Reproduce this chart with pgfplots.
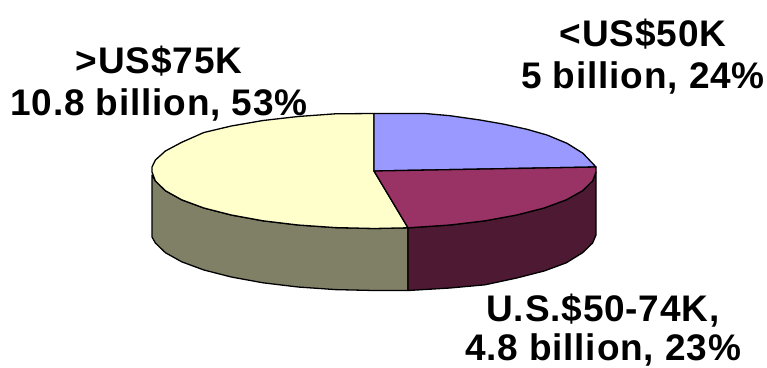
\documentclass[border=0pt]{standalone}
\usepackage{pgfplots}
\pgfplotsset{compat=1.18}
\usepackage{fontspec}
\setmainfont{Liberation Sans}
\newfontfamily\labelfont[LetterSpace=2.2]{Liberation Sans}
\definecolor{sliceblue}{HTML}{9999FF}
\definecolor{sliceplum}{HTML}{993366}
\definecolor{slicecream}{HTML}{FFFFCC}
\definecolor{wallplum}{HTML}{4D1933}
\definecolor{wallcream}{HTML}{808066}
\tikzset{lab/.style={anchor=base, inner sep=0pt, font=\labelfont\fontsize{37}{37}\selectfont\bfseries, text=black}}
\begin{document}
\begin{tikzpicture}
\begin{axis}[
  scale only axis, width=767pt, height=367pt,
  xmin=0, xmax=767, ymin=0, ymax=367, y dir=reverse,
  hide axis, clip=false,
  every axis plot/.append style={draw=black, line width=1.3pt, line join=round, mark=none}
]
% side wall of the largest slice
\addplot[fill=wallcream] coordinates {
  (408,227.8) (374,228.5) (335.5,227.6) (298.1,225) (263,220.8) (231.3,215)
  (203.9,208) (181.7,199.8) (165.4,190.7) (155.4,181) (152,175)
  (152,237) (155.4,243) (165.4,252.7) (181.7,261.8) (203.9,270) (231.3,277)
  (263,282.8) (298.1,287) (335.5,289.6) (374,290.5) (408,290.5)
} --cycle;
% side wall of the middle slice
\addplot[fill=wallplum] coordinates {
  (408,227.8) (449.9,225) (485,220.8) (516.7,215) (544.1,208) (566.3,199.8)
  (582.6,190.7) (592.6,181) (596,172)
  (596,235) (592.6,243) (582.6,252.7) (566.3,262.8) (544.1,271) (516.7,278)
  (485,284.8) (449.9,288) (408,290.5)
} --cycle;
% top face, >US$75K
\addplot[fill=slicecream] coordinates {
  (374,171) (408,227.8) (374,228.5) (335.5,227.6) (298.1,225) (263,220.8)
  (231.3,215) (203.9,208) (181.7,199.8) (165.4,190.7) (155.4,181) (152,172)
  (152,167) (155.4,160) (165.4,151) (181.7,142.3) (203.9,132.5) (231.3,126)
  (263,120.5) (298.1,116.5) (335.5,113.8) (374,113.5)
} --cycle;
% top face, <US$50K
\addplot[fill=sliceblue] coordinates {
  (374,171) (374,113.5) (425,113.5) (450,115.7) (480,120) (503,124) (527,129.3)
  (547,135) (567,143.3) (583,153.3) (596,167)
} --cycle;
% top face, U.S.$50-74K
\addplot[fill=sliceplum] coordinates {
  (374,171) (596,167) (596,172) (592.6,181) (582.6,190.7) (566.3,199.8)
  (544.1,208) (516.7,215) (485,220.8) (449.9,225) (408,227.8)
} --cycle;
\node[lab] at (axis cs:159,73) {>US\$75K};
\node[lab] at (axis cs:159,115) {10.8 billion, 53\%};
\node[lab] at (axis cs:643,46) {<US\$50K};
\node[lab] at (axis cs:643,88) {5 billion, 24\%};
\node[lab] at (axis cs:603,321) {U.S.\$50-74K,};
\node[lab] at (axis cs:603,360.5) {4.8 billion, 23\%};
\end{axis}
\pgfresetboundingbox
\path[use as bounding box] (0,0) rectangle (767pt,367pt);
\end{tikzpicture}
\end{document}
